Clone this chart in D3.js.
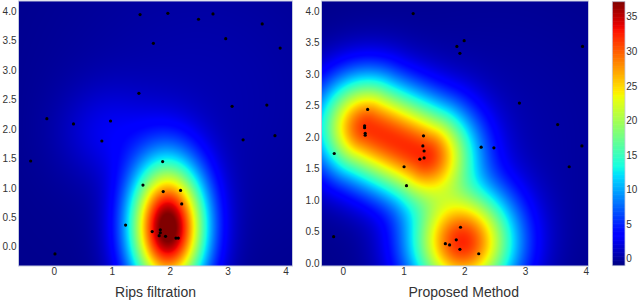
<!DOCTYPE html>
<html>
<head>
<meta charset="utf-8">
<script src="https://cdn.jsdelivr.net/npm/d3@7"></script>
<style>
  html, body { margin: 0; padding: 0; background: #fff; }
  svg text { font-family: "Liberation Sans", Arial, sans-serif; fill: #333; }
</style>
</head>
<body>
<svg id="chart" width="640" height="302"></svg>
<script>
// ---------------- DATA ----------------
const panelTitles = ["Rips filtration", "Proposed Method"];
const xTickValues = [0, 1, 2, 3, 4];
const yTickValues = [0.0, 0.5, 1.0, 1.5, 2.0, 2.5, 3.0, 3.5, 4.0];
const colorTickValues = [0, 5, 10, 15, 20, 25, 30, 35];
const colorDomain = [-0.97, 37.2];

// Scatter points, left panel (Rips filtration)
const leftPointsX = [1.48, 1.96, 2.49, 2.74, 3.59, 1.71, 2.96, 3.90, 1.46, 3.07, 3.67, -0.13, 0.33, 0.97, 0.82, 3.26, 3.81,
                     -0.41, 1.87, 1.53, 1.88, 2.18, 2.20, 1.23, 1.69, 1.83, 1.83, 1.81, 1.92, 2.10, 2.14, 0.01];
const leftPointsY = [3.95, 3.97, 3.87, 3.96, 3.79, 3.46, 3.54, 3.38, 2.61, 2.39, 2.41, 2.18, 2.09, 2.14, 1.80, 1.82, 1.89,
                     1.46, 1.45, 1.05, 0.94, 0.96, 0.73, 0.37, 0.26, 0.29, 0.24, 0.19, 0.18, 0.15, 0.15, -0.12];

// Scatter points, right panel (Proposed Method)
const rightPointsX = [1.15, 1.87, 1.99, 1.92, 3.94, 2.90, 3.53, 3.93, 0.40, 0.35, 0.35, 0.36, 0.36, 1.32, 1.31, 2.27, 2.48,
                      -0.15, 1.33, 1.26, 1.33, 1.00, 1.04, 3.72, -0.16, 1.93, 1.86, 1.68, 1.75, 1.92, 2.23];
const rightPointsY = [3.96, 3.44, 3.53, 3.33, 3.44, 2.54, 2.20, 1.86, 2.44, 2.18, 2.15, 2.06, 2.03, 2.02, 1.86, 1.84, 1.83,
                      1.74, 1.78, 1.65, 1.67, 1.53, 1.23, 1.53, 0.42, 0.57, 0.37, 0.31, 0.29, 0.22, 0.15];

// Density field components (Gaussian bumps), left panel
const leftBase = -0.6;
const leftBlobX   = [1.96, 0.90, 2.50];
const leftBlobY   = [0.32, 1.95, 2.50];
const leftBlobAmp = [39, 2.5, 1.2];
const leftBlobSx  = [0.455, 0.55, 1.8];
const leftBlobSy  = [0.77, 0.55, 1.8];

// Density field components, right panel
const rightBase = -0.6;
const rightBlobX   = [1.96];
const rightBlobY   = [0.33];
const rightBlobAmp = [32.3];
const rightBlobSx  = [0.60];
const rightBlobSy  = [0.62];
// Elongated ridge (upper-left mode): segment endpoints, height, width
const rightRidgeX = [0.40, 1.33];
const rightRidgeY = [2.15, 1.72];
const rightRidgeAmp = 32;
const rightRidgeSigma = 0.57;
// Broad low background bump, right panel
const rightBroadX = 2.5, rightBroadY = 2.0, rightBroadAmp = 1.0, rightBroadSigma = 1.5;
const rightMergePower = 1.6;

// ---------------- LAYOUT ----------------
const svg = d3.select("#chart");
const plotTop = 1, plotBottom = 265.7;

const panels = [
  {
    title: panelTitles[0],
    x: d3.scaleLinear().domain([-0.62, 4.11]).range([18.5, 292.3]),
    y: d3.scaleLinear().domain([-0.32, 4.18]).range([plotBottom, plotTop]),
    px: leftPointsX, py: leftPointsY,
    field: (x, y) => {
      let v = leftBase;
      for (let i = 0; i < leftBlobX.length; i++) {
        const dx = (x - leftBlobX[i]) / leftBlobSx[i];
        const dy = (y - leftBlobY[i]) / leftBlobSy[i];
        v += leftBlobAmp[i] * Math.exp(-0.5 * (dx * dx + dy * dy));
      }
      return v;
    },
    titleX: 155.5
  },
  {
    title: panelTitles[1],
    x: d3.scaleLinear().domain([-0.36, 4.03]).range([321.5, 588]),
    y: d3.scaleLinear().domain([-0.04, 4.16]).range([plotBottom, plotTop]),
    px: rightPointsX, py: rightPointsY,
    field: (x, y) => {
      const P = rightMergePower;
      let sq = 0;
      for (let i = 0; i < rightBlobX.length; i++) {
        const dx = (x - rightBlobX[i]) / rightBlobSx[i];
        const dy = (y - rightBlobY[i]) / rightBlobSy[i];
        const b = rightBlobAmp[i] * Math.exp(-0.5 * (dx * dx + dy * dy));
        sq += Math.pow(b, P);
      }
      const ax = rightRidgeX[0], ay = rightRidgeY[0];
      const bx = rightRidgeX[1], by = rightRidgeY[1];
      const ux = bx - ax, uy = by - ay;
      let t = ((x - ax) * ux + (y - ay) * uy) / (ux * ux + uy * uy);
      t = Math.max(0, Math.min(1, t));
      const cx = ax + t * ux, cy = ay + t * uy;
      const d2 = (x - cx) * (x - cx) + (y - cy) * (y - cy);
      const r = rightRidgeAmp * Math.exp(-d2 / (2 * rightRidgeSigma * rightRidgeSigma));
      sq += Math.pow(r, P);
      const bd2 = (x - rightBroadX) ** 2 + (y - rightBroadY) ** 2;
      return rightBase + Math.pow(sq, 1 / P) + rightBroadAmp * Math.exp(-bd2 / (2 * rightBroadSigma * rightBroadSigma));
    },
    titleX: 463.7
  }
];

// matplotlib "jet" colormap
const jr = d3.scaleLinear().domain([0, 0.35, 0.66, 0.89, 1]).range([0, 0, 1, 1, 0.5]).clamp(true);
const jg = d3.scaleLinear().domain([0, 0.125, 0.375, 0.64, 0.91, 1]).range([0, 0, 1, 1, 0, 0]).clamp(true);
const jb = d3.scaleLinear().domain([0, 0.11, 0.34, 0.65, 1]).range([0.5, 1, 1, 0, 0]).clamp(true);
const norm = d3.scaleLinear().domain(colorDomain).range([0, 1]).clamp(true);
function jet(v) {
  const t = norm(v);
  return [Math.round(jr(t) * 255), Math.round(jg(t) * 255), Math.round(jb(t) * 255)];
}

panels.forEach(p => {
  const [x0, x1] = p.x.range();
  const w = Math.round(x1 - x0), h = Math.round(plotBottom - plotTop);
  const canvas = document.createElement("canvas");
  canvas.width = w; canvas.height = h;
  const ctx = canvas.getContext("2d");
  const img = ctx.createImageData(w, h);
  for (let j = 0; j < h; j++) {
    const yv = p.y.invert(plotTop + j + 0.5);
    for (let i = 0; i < w; i++) {
      const xv = p.x.invert(x0 + i + 0.5);
      const c = jet(p.field(xv, yv));
      const k = (j * w + i) * 4;
      img.data[k] = c[0]; img.data[k + 1] = c[1]; img.data[k + 2] = c[2]; img.data[k + 3] = 255;
    }
  }
  ctx.putImageData(img, 0, 0);
  svg.append("image")
    .attr("x", x0).attr("y", plotTop).attr("width", w).attr("height", h)
    .attr("preserveAspectRatio", "none")
    .attr("href", canvas.toDataURL());

  svg.append("rect")
    .attr("x", x0).attr("y", plotTop).attr("width", w).attr("height", h)
    .attr("fill", "none").attr("stroke", "#c4c9de").attr("stroke-width", 1);

  svg.append("g").selectAll("circle")
    .data(d3.range(p.px.length))
    .join("circle")
    .attr("cx", i => p.x(p.px[i]))
    .attr("cy", i => p.y(p.py[i]))
    .attr("r", 1.6)
    .attr("fill", "#000");

  svg.append("g").selectAll("text")
    .data(yTickValues)
    .join("text")
    .attr("x", x0 - 2)
    .attr("y", d => p.y(d))
    .attr("dy", "0.35em")
    .attr("text-anchor", "end")
    .attr("font-size", 10)
    .text(d => d3.format(".1f")(d));

  svg.append("g").selectAll("text")
    .data(xTickValues)
    .join("text")
    .attr("x", d => p.x(d))
    .attr("y", 274.6)
    .attr("text-anchor", "middle")
    .attr("font-size", 10)
    .text(d => d);

  svg.append("text")
    .attr("x", p.titleX).attr("y", 296.5)
    .attr("text-anchor", "middle")
    .attr("font-size", 14)
    .text(p.title);
});

// ---------------- COLORBAR ----------------
const cbX = 612.3, cbW = 12.7;
const cbY = d3.scaleLinear().domain(colorDomain).range([plotBottom, 1.7]);
const nSteps = 200;
const stepVals = d3.range(nSteps).map(i => colorDomain[0] + (i + 0.5) * (colorDomain[1] - colorDomain[0]) / nSteps);
const stepH = (cbY(colorDomain[0]) - cbY(colorDomain[1])) / nSteps;
svg.append("g").selectAll("rect")
  .data(stepVals)
  .join("rect")
  .attr("x", cbX).attr("width", cbW)
  .attr("y", d => cbY(d) - stepH / 2 - 0.3)
  .attr("height", stepH + 0.6)
  .attr("fill", d => { const c = jet(d); return `rgb(${c[0]},${c[1]},${c[2]})`; });
svg.append("rect")
  .attr("x", cbX).attr("y", cbY(colorDomain[1])).attr("width", cbW)
  .attr("height", cbY(colorDomain[0]) - cbY(colorDomain[1]))
  .attr("fill", "none").attr("stroke", "#c4c9de").attr("stroke-width", 0.8);
svg.append("g").selectAll("text")
  .data(colorTickValues)
  .join("text")
  .attr("x", cbX + cbW + 1.2)
  .attr("y", d => cbY(d))
  .attr("dy", "0.35em")
  .attr("font-size", 10)
  .text(d => d);
</script>
</body>
</html>
